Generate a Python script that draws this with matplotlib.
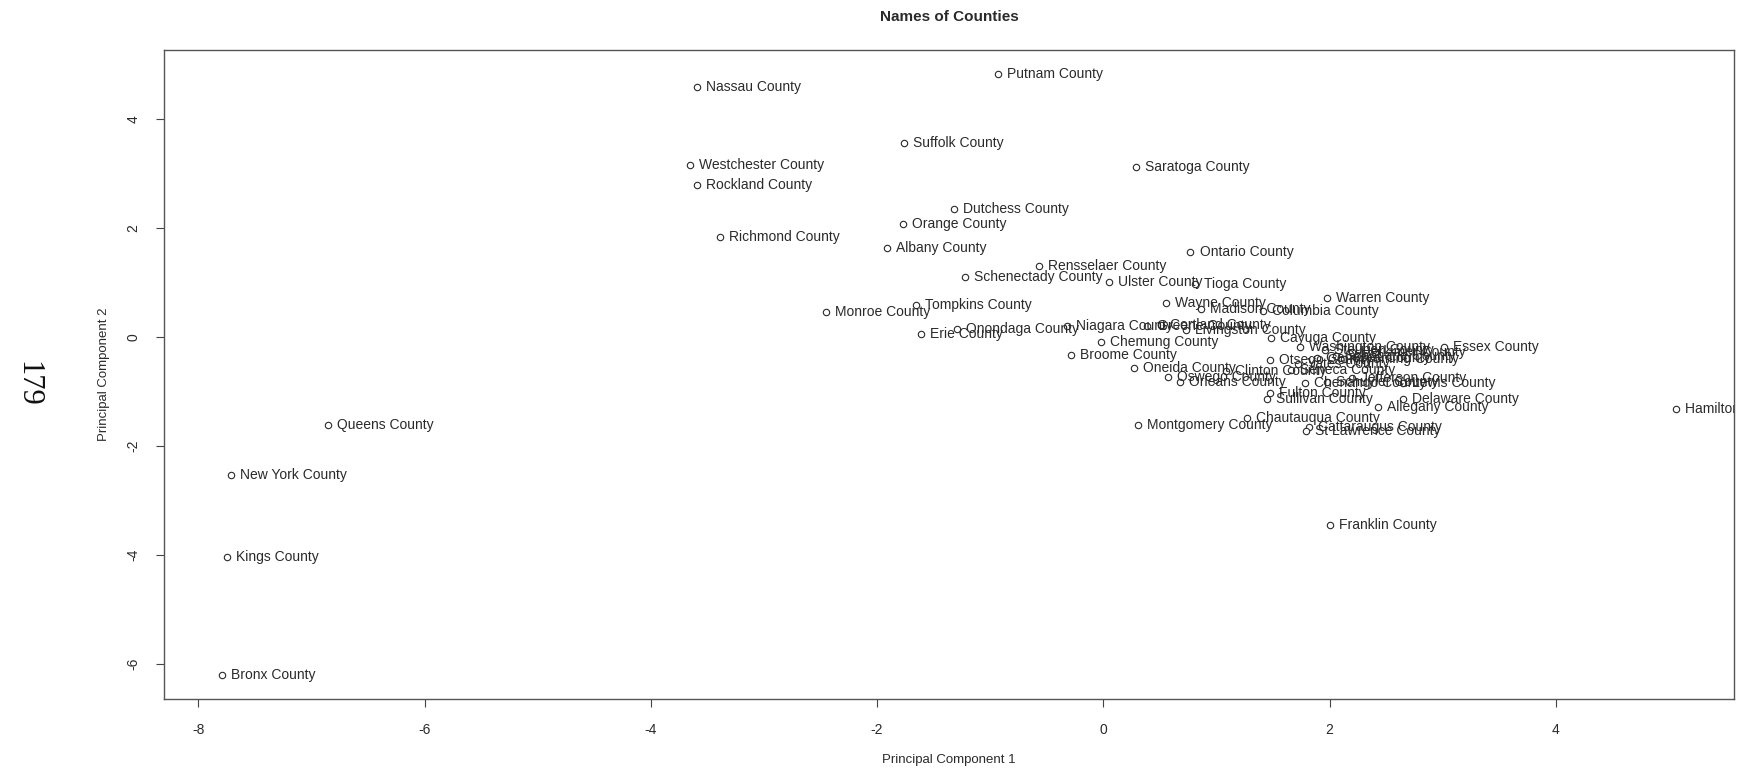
import matplotlib
matplotlib.use("Agg")
import matplotlib.pyplot as plt

# PCA scores of New York counties (first two principal components)
counties = [
    "Nassau", "Putnam", "Suffolk", "Westchester", "Saratoga", "Rockland",
    "Dutchess", "Orange", "Richmond", "Albany", "Ontario", "Rensselaer",
    "Schenectady", "Ulster", "Tioga", "Warren", "Tompkins", "Wayne",
    "Madison", "Columbia", "Monroe", "Niagara", "Greene", "Cortland",
    "Livingston", "Onondaga", "Erie", "Cayuga", "Chemung", "Washington",
    "Essex", "Broome", "Otsego", "Steuben", "Herkimer", "Schoharie",
    "Genesee", "Wyoming", "Yates", "Oneida", "Seneca", "Clinton",
    "Oswego", "Jefferson", "Orleans", "Chenango", "Schuyler", "Lewis",
    "Fulton", "Delaware", "Sullivan", "Allegany", "Hamilton", "Chautauqua",
    "Montgomery", "Queens", "Cattaraugus", "St Lawrence", "New York",
    "Franklin", "Kings", "Bronx",
]
pc1 = [
    -3.59, -0.93, -1.76, -3.65, 0.29, -3.59,
    -1.32, -1.77, -3.39, -1.91, 0.77, -0.57,
    -1.22, 0.05, 0.81, 1.98, -1.66, 0.55,
    0.86, 1.41, -2.45, -0.32, 0.39, 0.51,
    0.73, -1.29, -1.61, 1.48, -0.02, 1.74,
    3.01, -0.29, 1.47, 1.96, 2.20, 2.06,
    1.89, 2.13, 1.72, 0.27, 1.66, 1.08,
    0.57, 2.20, 0.68, 1.78, 1.98, 2.65,
    1.47, 2.65, 1.45, 2.43, 5.06, 1.27,
    0.31, -6.85, 1.82, 1.79, -7.71,
    2.00, -7.75, -7.79,
]
pc2 = [
    4.59, 4.82, 3.55, 3.16, 3.12, 2.78,
    2.35, 2.08, 1.84, 1.63, 1.55, 1.31,
    1.10, 1.00, 0.98, 0.71, 0.59, 0.63,
    0.51, 0.47, 0.45, 0.20, 0.20, 0.22,
    0.12, 0.14, 0.06, -0.02, -0.10, -0.18,
    -0.18, -0.33, -0.43, -0.24, -0.27, -0.35,
    -0.39, -0.41, -0.49, -0.57, -0.61, -0.63,
    -0.73, -0.76, -0.82, -0.84, -0.82, -0.84,
    -1.02, -1.14, -1.14, -1.29, -1.33, -1.49,
    -1.61, -1.61, -1.65, -1.73, -2.53,
    -3.45, -4.04, -6.20,
]
x_ticks = [-8, -6, -4, -2, 0, 2, 4]
y_ticks = [-6, -4, -2, 0, 2, 4]

plt.rcParams["font.family"] = ["Liberation Sans", "DejaVu Sans"]

fig = plt.figure(figsize=(17.46, 7.71), dpi=100)
ax = fig.add_axes([0.0939, 0.0934, 0.8992, 0.8416])

ink = "#2a2a2a"
ax.plot(pc1, pc2, linestyle="none", marker="o", markersize=4.6,
        markerfacecolor="white", markeredgecolor=ink, markeredgewidth=0.8)

for name, x, y in zip(counties, pc1, pc2):
    t = ax.annotate(f"{name} County", (x, y), xytext=(6.5, 0),
                    textcoords="offset points", ha="left", va="center",
                    fontsize=10, color=ink)
    t.set_clip_on(True)
    t.set_clip_path(ax.patch)

# R-style range: data extent padded by 4% on each side
xr = max(pc1) - min(pc1)
yr = max(pc2) - min(pc2)
ax.set_xlim(min(pc1) - 0.04 * xr, max(pc1) + 0.04 * xr)
ax.set_ylim(min(pc2) - 0.04 * yr, max(pc2) + 0.04 * yr)

ax.set_xticks(x_ticks)
ax.set_yticks(y_ticks)
ax.set_xticklabels([str(v) for v in x_ticks])
ax.set_yticklabels([str(v) for v in y_ticks], rotation=90, va="center")
ax.tick_params(direction="out", length=6, width=0.8, colors="#444444",
               labelsize=10, pad=11, labelcolor=ink)

for sp in ax.spines.values():
    sp.set_color("#555555")
    sp.set_linewidth(1.0)

ax.set_xlabel("Principal Component 1", fontsize=9.5, color=ink)
ax.set_ylabel("Principal Component 2", fontsize=9.5, color=ink)
ax.xaxis.set_label_coords(0.5, -0.094)
ax.xaxis.label.set_verticalalignment("center")
ax.yaxis.set_label_coords(-0.038, 0.5)
ax.yaxis.label.set_verticalalignment("center")

ax.text(0.5, 1.051, "Names of Counties", transform=ax.transAxes,
        ha="center", va="center", fontsize=11, fontweight="bold", color=ink)

fig.text(0.016, 0.502, "179", rotation=-90, ha="center", va="center",
         fontsize=22, family=["Liberation Serif", "DejaVu Serif"], color="#111111")

fig.savefig("out.png", dpi=100, facecolor="white")
